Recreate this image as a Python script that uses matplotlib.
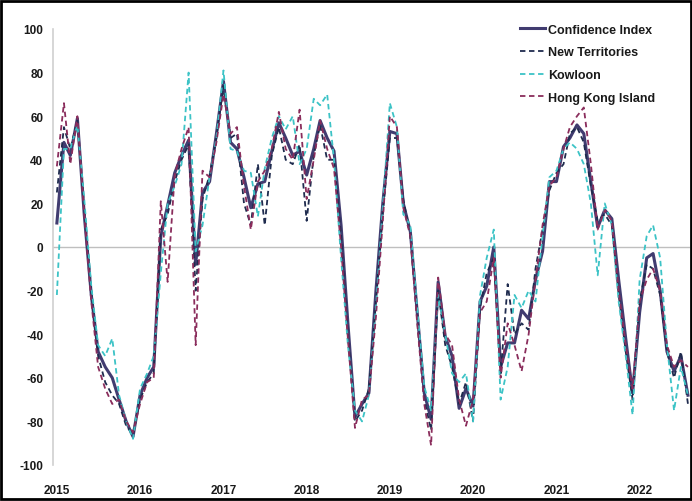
import matplotlib
matplotlib.use('Agg')
import pandas as pd
import matplotlib.pyplot as plt
import matplotlib.dates as mdates
from matplotlib.patches import Rectangle

# monthly readings, Jan 2015 - Aug 2022
months = pd.date_range('2015-01-01', periods=92, freq='MS')

confidence_index = [
    11, 48, 42, 59, 15, -22, -48, -55, -60, -70, -80, -87,
    -68, -60, -55, 5, 19, 34, 42, 49, -8, 25, 30, 52,
    76, 48, 45, 32, 18, 29, 30, 44, 57, 50, 42, 44,
    33, 45, 58, 50, 44, 10, -35, -78, -72, -67, -20, 20,
    53, 52, 20, 7, -30, -67, -79, -16, -41, -50, -74, -65,
    -73, -25, -18, 0, -55, -44, -44, -29, -33, -15, -2, 30,
    30, 46, 50, 56, 52, 30, 9, 17, 13, -15, -42, -67,
    -30, -5, -3, -20, -48, -57, -50, -68]

new_territories = [
    25, 55, 45, 58, 18, -20, -50, -62, -68, -72, -82, -86,
    -70, -62, -58, 8, 15, 30, 40, 47, -20, 22, 33, 50,
    74, 50, 52, 20, 10, 38, 10, 42, 55, 40, 38, 47,
    12, 42, 56, 40, 40, 5, -40, -80, -75, -65, -25, 15,
    50, 50, 22, 5, -32, -70, -84, -20, -45, -55, -72, -62,
    -80, -28, -12, -5, -58, -17, -40, -35, -38, -10, 8, 26,
    34, 38, 52, 55, 48, 28, 12, 15, 10, -22, -48, -70,
    -25, -8, -10, -22, -48, -60, -48, -72]

kowloon = [
    -22, 45, 45, 56, 22, -18, -45, -50, -42, -68, -80, -88,
    -65, -58, -50, -12, 20, 28, 38, 80, -2, 10, 32, 50,
    81, 45, 44, 35, 34, 14, 36, 50, 60, 54, 60, 38,
    45, 68, 65, 70, 40, -5, -45, -75, -80, -68, -28, 18,
    66, 55, 15, 10, -28, -64, -75, -22, -40, -58, -62, -58,
    -80, -22, -5, 8, -70, -55, -22, -28, -20, -25, 5, 32,
    35, 45, 48, 45, 38, 20, -13, 20, 10, -25, -50, -77,
    -15, 5, 10, -5, -45, -75, -55, -68]

hong_kong_island = [
    37, 66, 38, 60, 15, -25, -55, -65, -72, -70, -80, -85,
    -72, -62, -60, 21, -16, 33, 45, 55, -45, 35, 32, 48,
    70, 52, 55, 28, 8, 30, 35, 45, 62, 45, 40, 63,
    22, 40, 58, 45, 36, 0, -42, -83, -70, -68, -32, 12,
    60, 55, 18, 5, -35, -72, -91, -14, -40, -45, -70, -82,
    -70, -30, -25, -5, -60, -35, -45, -57, -40, -15, 10, 28,
    32, 45, 55, 60, 64, 38, 8, 17, 12, -20, -45, -65,
    -25, -15, -10, -20, -45, -55, -52, -55]

plt.rcParams['font.family'] = ['Liberation Sans', 'DejaVu Sans']
plt.rcParams['axes.unicode_minus'] = False

fig = plt.figure(figsize=(6.92, 5.02), dpi=100)
ax = fig.add_axes([53 / 692, 1 - 466 / 502, 637 / 692, 436 / 502])

ax.plot(months, confidence_index, color='#413c70', lw=2.2, label='Confidence Index', zorder=3)
ax.plot(months, new_territories, color='#1f2b4e', lw=1.3, ls=(0, (3, 2)), label='New Territories', zorder=4)
ax.plot(months, kowloon, color='#3cc3c6', lw=1.3, ls=(0, (3, 2)), label='Kowloon', zorder=4)
ax.plot(months, hong_kong_island, color='#8a2d5c', lw=1.3, ls=(0, (3, 2)), label='Hong Kong Island', zorder=4)

ax.axhline(0, color='#bfbfbf', lw=1.0, zorder=1)

ax.set_ylim(-100, 100)
ax.set_yticks(range(-100, 101, 20))
ax.set_xlim(pd.Timestamp('2014-12-15'), pd.Timestamp('2022-08-10'))
ax.xaxis.set_major_locator(mdates.YearLocator())
ax.xaxis.set_major_formatter(mdates.DateFormatter('%Y'))

for side in ['top', 'right', 'bottom']:
    ax.spines[side].set_visible(False)
ax.spines['left'].set_color('#d0d0d0')
ax.spines['left'].set_linewidth(1.2)

ax.tick_params(axis='both', length=0, labelsize=8.5, colors='#1a1a1a')
ax.tick_params(axis='x', pad=14)
ax.tick_params(axis='y', pad=7)
for lbl in ax.get_xticklabels() + ax.get_yticklabels():
    lbl.set_fontweight('bold')

leg = ax.legend(loc='upper left', bbox_to_anchor=(0.733, 1.012), frameon=False,
                borderaxespad=0, borderpad=0,
                fontsize=9, handlelength=2.0, handletextpad=0.25, labelspacing=0.85)
for t in leg.get_texts():
    t.set_fontweight('bold')
    t.set_color('#1a1a1a')

# black frame round the whole picture
fig.patches.append(Rectangle((0.002, 0.003), 0.996, 0.994, transform=fig.transFigure,
                             fill=False, edgecolor='black', lw=2.0))

plt.savefig('out.png', dpi=100)
